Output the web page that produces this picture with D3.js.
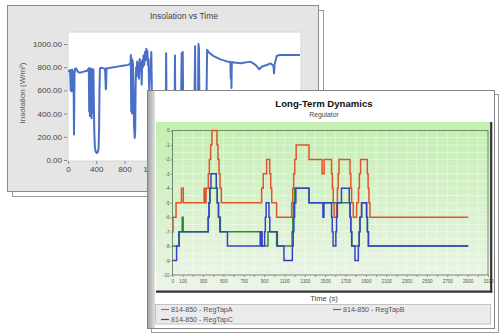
<!DOCTYPE html>
<html><head><meta charset="utf-8">
<script src="https://cdn.jsdelivr.net/npm/d3@7"></script>
<style>body{margin:0;background:#fff}svg{display:block;font-family:"Liberation Sans",Arial,sans-serif}</style>
</head><body><svg id="c" width="501" height="335"></svg>
<script>
// ---------- Back chart: Insolation vs Time ----------
const insolTime = [0,15,30,38,44,52,60,72,78,85,92,100,115,130,150,180,210,240,270,295,300,305,310,315,322,328,334,340,346,352,360,366,372,380,390,405,420,432,440,446,452,470,500,525,535,540,545,560,600,650,700,750,800,850,885,890,895,900,906,912,920,928,935,945,952,958,965,972,980,988,995,1005,1015,1025,1035,1044,1052,1060,1070,1080,1090,1100,1110,1118,1125,1132,1140,1150,1160,1170,1180,1190,1200,1250,1300,1350,1385,1390,1396,1450,1510,1515,1520,1600,1610,1616,1625,1632,1700,1790,1800,1806,1840,1848,1855,1862,1960,1970,1990,2050,2150,2250,2300,2305,2310,2315,2320,2350,2450,2578,2625,2672,2710,2743,2814,2871,2910,2918,2925,2956,2993,3100,3286];
const insolValue = [770,765,775,600,770,590,780,610,760,220,740,785,790,770,755,755,760,765,770,790,420,780,380,790,400,770,360,785,410,760,780,500,250,120,75,60,65,90,250,600,790,795,790,785,610,620,790,790,795,800,805,810,815,820,830,905,420,880,400,860,830,600,300,190,250,650,800,720,850,760,830,700,870,780,840,650,860,800,900,820,930,860,960,900,940,820,870,600,780,770,930,500,450,400,450,420,430,920,450,420,430,900,420,450,920,430,930,440,450,430,980,450,440,1000,960,450,430,950,930,900,870,850,845,700,840,620,845,840,835,848,833,810,782,804,819,833,810,747,820,897,905,905,905];
const insolYTicks = [0,200,400,600,800,1000];
const insolXTicks = [0,400,800,1200,1600,2000,2400,2800,3200];

// ---------- Front chart: Long-Term Dynamics ----------
const seriesNames = ["814-850 - RegTapA","814-850 - RegTapB","814-850 - RegTapC"];
const tapATime = [0,5,35,88,106,310,322,330,352,362,375,388,437,447,457,467,480,876,892,925,955,965,975,1023,1171,1181,1191,1201,1215,1341,1470,1490,1563,1571,1579,1588,1612,1620,1628,1636,1744,1752,1760,1776,1809,1828,1836,1848,1914,1922,1930,1940,2906];
const tapAValue = [-7,-6,-5,-4,-5,-4,-5,-4,-3,-2,-1,0,-1,-2,-3,-4,-5,-4,-3,-2,-3,-4,-5,-6,-5,-4,-3,-2,-1,-2,-3,-2,-3,-4,-5,-6,-5,-4,-3,-2,-3,-4,-5,-6,-5,-4,-3,-2,-3,-4,-5,-6,-6];
const tapBTime = [0,62,95,105,352,360,368,440,452,470,876,938,1023,1175,1182,1188,1200,1341,1745,1752,1762,1834,1842,1858,1907,1915,1925,2906];
const tapBValue = [-8,-7,-6,-7,-6,-5,-4,-5,-6,-7,-8,-7,-8,-7,-6,-5,-4,-5,-6,-7,-8,-7,-6,-5,-6,-7,-8,-8];
const tapCTime = [0,40,65,350,358,367,378,430,440,452,465,540,862,868,874,880,905,912,920,948,956,1030,1095,1178,1186,1193,1200,1212,1341,1478,1488,1563,1570,1578,1605,1612,1620,1660,1737,1745,1752,1760,1793,1826,1834,1842,1858,1907,1915,1925,2906];
const tapCValue = [-9,-8,-7,-6,-5,-4,-3,-4,-5,-6,-7,-8,-7,-8,-7,-8,-7,-6,-5,-6,-7,-8,-9,-8,-7,-6,-5,-4,-5,-6,-5,-6,-7,-8,-7,-6,-5,-4,-5,-6,-7,-8,-9,-8,-7,-6,-5,-6,-7,-8,-8];
const frontXTicks = d3.range(0,3101,100);
const frontXLabels = [0,100,300,500,700,900,1100,1300,1500,1700,1900,2100,2300,2500,2700,2900,3100];
const frontYTicks = [0,-1,-2,-3,-4,-5,-6,-7,-8,-9,-10];
const seriesColors = ["#e2522c","#2f8a2f","#3442c8"];

const svg = d3.select('#c');
const defs = svg.append('defs');
const gg = defs.append('linearGradient').attr('id','gGreen').attr('x1',0).attr('y1',0).attr('x2',0).attr('y2',1);
gg.append('stop').attr('offset','0%').attr('stop-color','#c3efb0');
gg.append('stop').attr('offset','100%').attr('stop-color','#edf4e9');
const gs = defs.append('linearGradient').attr('id','gStrip').attr('x1',0).attr('x2',1).attr('y1',0).attr('y2',0);
gs.append('stop').attr('offset','0%').attr('stop-color','#a5a5a5');
gs.append('stop').attr('offset','100%').attr('stop-color','#e0e0e0');
defs.append('clipPath').attr('id','clipBack').append('rect').attr('x',68).attr('y',32).attr('width',233).attr('height',129);
defs.append('clipPath').attr('id','clipFront').append('rect').attr('x',172.5).attr('y',129).attr('width',316).attr('height',147);

// ---- back panel ----
svg.append('rect').attr('x',12.5).attr('y',10.5).attr('width',311).attr('height',186).attr('fill','#fff').attr('stroke','#9a9a9a');
svg.append('rect').attr('x',7.5).attr('y',5.5).attr('width',311).attr('height',186).attr('fill','#e5e5e5').attr('stroke','#8c8c8c');
svg.append('rect').attr('x',68).attr('y',32).attr('width',233).attr('height',129).attr('fill','#fff').attr('stroke','#d6d6d6');

const xb = d3.scaleLinear().domain([0,3300]).range([68,301]);
const yb = d3.scaleLinear().domain([0,1100]).range([160,32.4]);

const ybAxis = svg.append('g').attr('transform','translate(67,0)')
  .call(d3.axisLeft(yb).tickValues(insolYTicks).tickFormat(d3.format('.2f')).tickSize(3).tickPadding(2));
ybAxis.select('.domain').remove();
ybAxis.selectAll('line').attr('stroke','#888');
ybAxis.selectAll('text').attr('font-size',8).attr('fill','#444').attr('font-family','"Liberation Sans",Arial,sans-serif');

const xbAxis = svg.append('g').attr('transform','translate(0,161)')
  .call(d3.axisBottom(xb).tickValues(insolXTicks).tickSize(3).tickPadding(2));
xbAxis.select('.domain').remove();
xbAxis.selectAll('line').attr('stroke','#888');
xbAxis.selectAll('text').attr('font-size',8).attr('fill','#444').attr('font-family','"Liberation Sans",Arial,sans-serif');

svg.append('text').attr('x',184).attr('y',19).attr('text-anchor','middle').attr('font-size',8.5).attr('fill','#444').text('Insolation vs Time');
svg.append('text').attr('transform','translate(25,93) rotate(-90)').attr('text-anchor','middle').attr('font-size',8).attr('fill','#555').text('Insolation (W/m²)');

const insolData = insolTime.map((t,i)=>[t,insolValue[i]]);
svg.append('path').attr('clip-path','url(#clipBack)').datum(insolData)
  .attr('d', d3.line().x(d=>xb(d[0])).y(d=>yb(d[1])))
  .attr('fill','none').attr('stroke','#4a6fc6').attr('stroke-width',2).attr('stroke-linejoin','round');

// ---- front panel ----
svg.append('rect').attr('x',151.5).attr('y',94.5).attr('width',347).attr('height',238).attr('fill','#fff').attr('stroke','#9a9a9a');
svg.append('rect').attr('x',147.5).attr('y',90.5).attr('width',347).attr('height',238).attr('fill','#fff').attr('stroke','#858585');
svg.append('rect').attr('x',148).attr('y',91).attr('width',7).attr('height',237).attr('fill','url(#gStrip)');

svg.append('rect').attr('x',156).attr('y',122).attr('width',334).attr('height',169).attr('fill','url(#gGreen)');

const xf = d3.scaleLinear().domain([0,3100]).range([172.5,488]);
const yf = d3.scaleLinear().domain([-10,0]).range([275,130.5]);

const grid = svg.append('g').attr('stroke','#ffffff').attr('stroke-opacity',0.6).attr('stroke-width',0.7);
grid.selectAll('.gv').data(d3.range(100,3100,100)).enter().append('line')
  .attr('x1',d=>xf(d)).attr('x2',d=>xf(d)).attr('y1',yf(0)).attr('y2',yf(-10));
grid.selectAll('.gh').data(d3.range(-9.5,0,0.5)).enter().append('line')
  .attr('y1',d=>yf(d)).attr('y2',d=>yf(d)).attr('x1',xf(0)).attr('x2',xf(3100));

svg.append('rect').attr('x',xf(0)).attr('y',yf(0)).attr('width',xf(3100)-xf(0)).attr('height',yf(-10)-yf(0))
  .attr('fill','none').attr('stroke','#55735a').attr('stroke-width',0.8);

const stepLine = d3.line().x(d=>xf(d[0])).y(d=>yf(d[1])).curve(d3.curveStepAfter);
const seriesData = [
  tapATime.map((t,i)=>[t,tapAValue[i]]),
  tapBTime.map((t,i)=>[t,tapBValue[i]]),
  tapCTime.map((t,i)=>[t,tapCValue[i]])
];
svg.append('g').attr('clip-path','url(#clipFront)').selectAll('path').data(seriesData).enter().append('path')
  .attr('d',stepLine).attr('fill','none').attr('stroke',(d,i)=>seriesColors[i]).attr('stroke-width',1.5);

const xfAxis = svg.append('g').attr('transform','translate(0,275)')
  .call(d3.axisBottom(xf).tickValues(frontXTicks).tickSize(2).tickPadding(3)
    .tickFormat(d => frontXLabels.includes(d) ? String(d) : ''));
xfAxis.select('.domain').remove();
xfAxis.selectAll('line').attr('stroke','#666').attr('stroke-width',0.6);
xfAxis.selectAll('text').attr('font-size',4.6).attr('fill','#555').attr('font-family','"Liberation Sans",Arial,sans-serif');

const yfAxis = svg.append('g').attr('transform','translate(172.5,0)')
  .call(d3.axisLeft(yf).tickValues(frontYTicks).tickSize(2).tickPadding(1).tickFormat(d=>String(d)));
yfAxis.select('.domain').remove();
yfAxis.selectAll('line').attr('stroke','#666').attr('stroke-width',0.6);
yfAxis.selectAll('text').attr('font-size',4.6).attr('fill','#555').attr('font-family','"Liberation Sans",Arial,sans-serif');

// dark 3D edge
svg.append('line').attr('x1',491.2).attr('x2',491.2).attr('y1',122).attr('y2',292.5).attr('stroke','#333').attr('stroke-width',2.2);
svg.append('line').attr('x1',156).attr('x2',492.3).attr('y1',291.6).attr('y2',291.6).attr('stroke','#333').attr('stroke-width',2.2);

svg.append('text').attr('x',324).attr('y',106.5).attr('text-anchor','middle').attr('font-size',9.6).attr('font-weight','bold').attr('fill','#111').text('Long-Term Dynamics');
svg.append('text').attr('x',324).attr('y',116.5).attr('text-anchor','middle').attr('font-size',6.8).attr('fill','#444').text('Regulator');
svg.append('text').attr('x',324).attr('y',300.5).attr('text-anchor','middle').attr('font-size',7.6).attr('fill','#444').text('Time (s)');

// legend
svg.append('rect').attr('x',155.5).attr('y',304.5).attr('width',335).attr('height',19.5).attr('fill','#ebebeb').attr('stroke','#c2c2c2');
const legendPos = [[161,309.5],[333,309.5],[161,319.5]];
const lg = svg.append('g').selectAll('g').data(seriesNames).enter().append('g')
  .attr('transform',(d,i)=>`translate(${legendPos[i][0]},${legendPos[i][1]})`);
lg.append('line').attr('x1',0).attr('x2',8).attr('y1',0).attr('y2',0).attr('stroke',(d,i)=>seriesColors[i]).attr('stroke-width',1.2);
lg.append('text').attr('x',10).attr('y',2.4).attr('font-size',7.1).attr('fill','#555').text(d=>d);
</script></body></html>
